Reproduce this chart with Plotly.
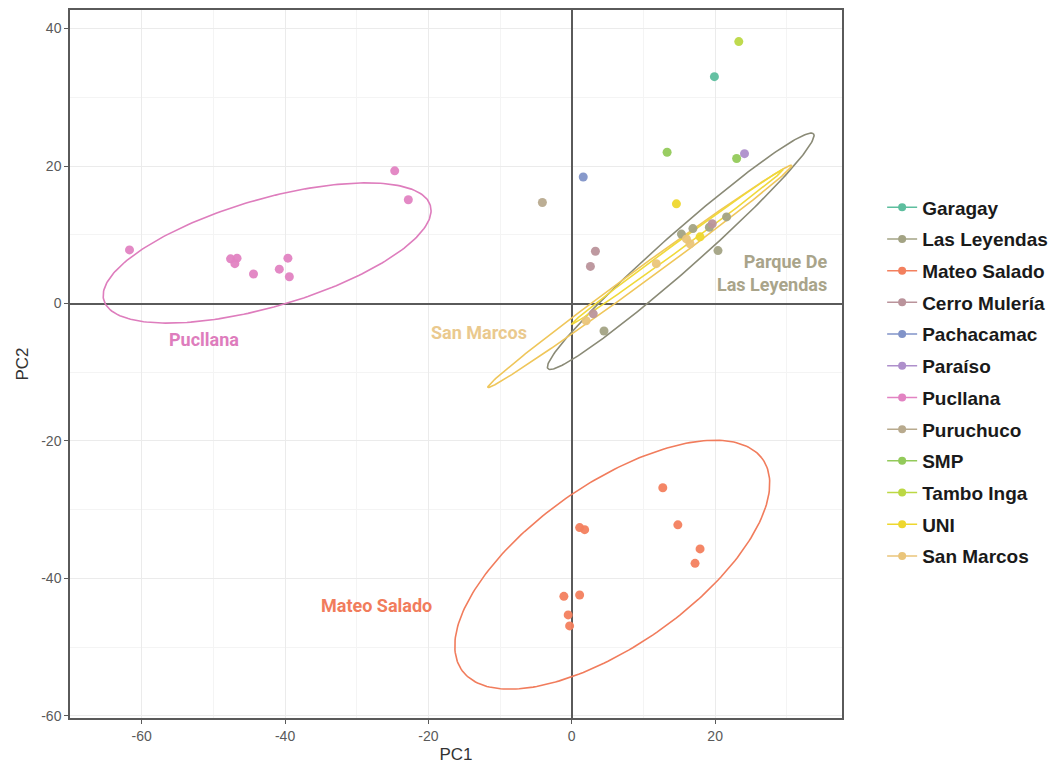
import numpy as np
import plotly.graph_objects as go

# ---------------- data ----------------
groups = ["Garagay", "Las Leyendas", "Mateo Salado", "Cerro Mulería", "Pachacamac",
          "Paraíso", "Pucllana", "Puruchuco", "SMP", "Tambo Inga", "UNI", "San Marcos"]
colors = ["#5DBE9E", "#A3A384", "#F3805E", "#BA939B", "#8193C8",
          "#AE8FCB", "#E283C2", "#B8AA8E", "#93CA5A", "#BCD844", "#EED72E", "#EAC57A"]

pc1 = {
    "Garagay": [19.9],
    "Las Leyendas": [4.5, 15.3, 16.9, 19.2, 20.4, 21.6],
    "Mateo Salado": [12.7, 14.8, 17.9, 17.2, 1.1, 1.8, -1.1, 1.1, -0.5, -0.3],
    "Cerro Mulería": [3.3, 2.6, 3.0, 19.6],
    "Pachacamac": [1.6],
    "Paraíso": [24.1],
    "Pucllana": [-61.7, -24.7, -22.8, -47.6, -46.7, -47.0, -44.4, -40.8, -39.6, -39.4],
    "Puruchuco": [-4.1],
    "SMP": [13.3, 23.0],
    "Tambo Inga": [23.3],
    "UNI": [14.6, 17.9],
    "San Marcos": [2.0, 16.0, 16.5, 11.8],
}
pc2 = {
    "Garagay": [33.0],
    "Las Leyendas": [-4.0, 10.1, 10.9, 11.1, 7.7, 12.6],
    "Mateo Salado": [-26.8, -32.2, -35.7, -37.8, -32.6, -32.9, -42.6, -42.4, -45.3, -46.9],
    "Cerro Mulería": [7.6, 5.4, -1.5, 11.6],
    "Pachacamac": [18.4],
    "Paraíso": [21.8],
    "Pucllana": [7.8, 19.3, 15.1, 6.5, 6.6, 5.8, 4.3, 5.0, 6.6, 3.9],
    "Puruchuco": [14.7],
    "SMP": [22.0, 21.1],
    "Tambo Inga": [38.1],
    "UNI": [14.5, 9.7],
    "San Marcos": [-2.5, 9.4, 8.7, 5.8],
}

# confidence ellipses: group, centre x, centre y, semi-major, semi-minor, angle (deg)
ell_group = ["Pucllana", "Mateo Salado", "Las Leyendas", "San Marcos", "UNI"]
ell_cx = [-42.5, 5.65, 15.2, 9.5, 14.75]
ell_cy = [7.35, -38.0, 7.6, 3.95, 8.25]
ell_a = [23.8, 26.0, 25.2, 26.65, 18.55]
ell_b = [7.8, 11.6, 2.6, 1.05, 0.55]
ell_ang = [17.0, 36.7, 42.7, 37.3, 37.3]
ell_colors = {"Pucllana": "#DE7DBD", "Mateo Salado": "#F17C5C", "Las Leyendas": "#8A8A76",
              "San Marcos": "#EFC65A", "UNI": "#F0D93A"}

# group labels: text, x, y, colour
lab_text = ["Pucllana", "Mateo Salado", "San Marcos", "Parque De<br>Las Leyendas"]
lab_x = [-51.3, -27.3, -13.0, 35.9]
lab_y = [-5.2, -44.0, -4.2, 4.4]
lab_col = ["#DE7DBD", "#F17C5C", "#EAC98E", "#A9A48A"]
lab_anchor = ["center", "center", "center", "right"]

xticks = [-60, -40, -20, 0, 20]
xtick_text = ["-60", "-40", "-20", "0", "20"]
yticks = [-60, -40, -20, 0, 20, 40]
ytick_text = ["-60", "-40", "-20", "0", "20", "40"]

# ---------------- figure ----------------
fig = go.Figure()

t = np.linspace(0, 2 * np.pi, 240)
for g, cx, cy, a, b, ang in zip(ell_group, ell_cx, ell_cy, ell_a, ell_b, ell_ang):
    th = np.deg2rad(ang)
    ex = cx + a * np.cos(t) * np.cos(th) - b * np.sin(t) * np.sin(th)
    ey = cy + a * np.cos(t) * np.sin(th) + b * np.sin(t) * np.cos(th)
    fig.add_trace(go.Scatter(x=ex, y=ey, mode="lines", showlegend=False, hoverinfo="skip",
                             line=dict(color=ell_colors[g], width=1.6)))

for g, c in zip(groups, colors):
    fig.add_trace(go.Scatter(x=pc1[g], y=pc2[g], mode="markers", showlegend=False, name=g,
                             marker=dict(color=c, size=9, opacity=0.95)))

for i, (g, c) in enumerate(zip(groups, colors)):
    fig.add_trace(go.Scatter(x=[None], y=[None], mode="lines+markers", name=g,
                             legendgroup=g, showlegend=True,
                             line=dict(color=c, width=1.5), marker=dict(color=c, size=8)))

for txt, x, y, c, an in zip(lab_text, lab_x, lab_y, lab_col, lab_anchor):
    fig.add_annotation(x=x, y=y, text=txt, showarrow=False, xanchor=an, align=an,
                       font=dict(family="Roboto, sans-serif", size=18,
                                 color=c, weight="bold"))

axis_common = dict(showgrid=True, gridcolor="#EBEBEB", gridwidth=1,
                   zeroline=True, zerolinecolor="#5A5A5A", zerolinewidth=2,
                   showline=True, linecolor="#5A5A5A", linewidth=1.5, mirror=True,
                   ticks="outside", ticklen=4, tickcolor="#5A5A5A",
                   tickfont=dict(family="Liberation Sans, Arial, sans-serif", size=14, color="#5A5A5A"))

fig.update_xaxes(range=[-70, 37.7], tickvals=xticks, ticktext=xtick_text, **axis_common,
                 minor=dict(showgrid=True, gridcolor="#F4F4F4", gridwidth=1, dtick=10, tick0=-70),
                 title=dict(text="PC1", standoff=6,
                            font=dict(family="Liberation Sans, Arial, sans-serif", size=17, color="#333333")))
fig.update_yaxes(range=[-60.3, 42.7], tickvals=yticks, ticktext=ytick_text, **axis_common,
                 minor=dict(showgrid=True, gridcolor="#F4F4F4", gridwidth=1, dtick=10, tick0=-70),
                 title=dict(text="PC2", standoff=8,
                            font=dict(family="Liberation Sans, Arial, sans-serif", size=17, color="#333333")))

fig.update_layout(
    width=1055, height=773,
    margin=dict(l=70, r=213, t=10, b=55, autoexpand=False),
    plot_bgcolor="white", paper_bgcolor="white",
    legend=dict(x=1.052, y=0.748, xanchor="left", yanchor="top",
                traceorder="grouped", tracegroupgap=4,
                font=dict(family="Liberation Sans, Arial, sans-serif", size=19, color="#1A1A1A",
                          weight="bold"),
                bgcolor="rgba(0,0,0,0)"),
)

fig.write_html("out.html")
